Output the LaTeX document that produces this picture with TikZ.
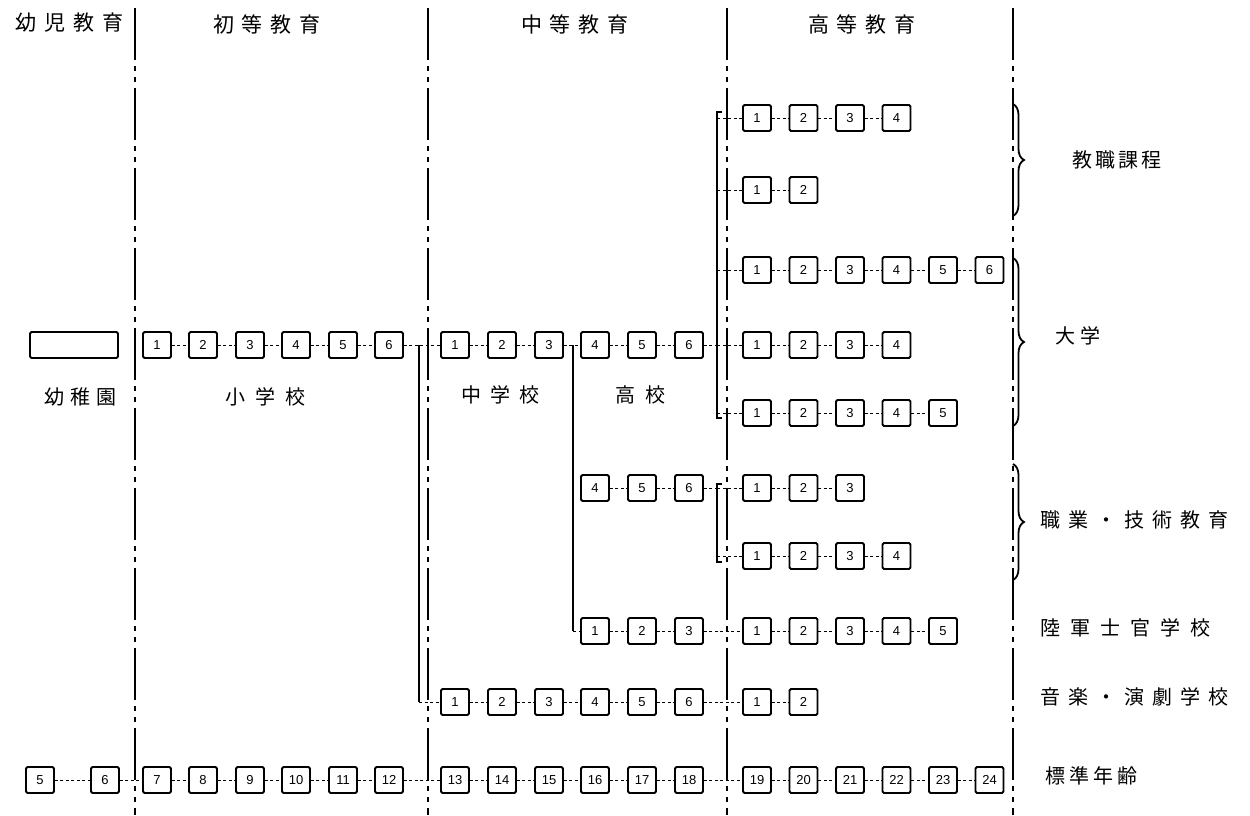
\documentclass[tikz,border=0pt]{standalone}
\usepackage{fontspec}
\setmainfont{Liberation Sans}
\newfontfamily\jp{Noto Sans CJK JP}
\usetikzlibrary{decorations.pathreplacing}
\begin{document}
\begin{tikzpicture}[x=1pt,y=-1pt,
 bx/.style={draw,line width=1.9pt,minimum width=28pt,minimum height=26pt,inner sep=0pt,rounded corners=1.5pt,font=\fontsize{13}{13}\selectfont},
 lnk/.style={line width=0.9pt,dash pattern=on 3pt off 2.5pt},
 solidl/.style={line width=2.4pt},
 sep/.style={line width=2.6pt,dash pattern=on 52pt off 6pt on 5pt off 6pt on 5pt off 6pt},
 hdr/.style={font=\jp\fontsize{21}{21}\selectfont,inner sep=0pt},
 lbl/.style={font=\jp\fontsize{20}{20}\selectfont,inner sep=0pt},
 rlbl/.style={font=\jp\fontsize{20}{20}\selectfont,inner sep=0pt,anchor=west},
 brc/.style={line width=1.8pt,decorate,decoration={brace,amplitude=11pt,aspect=0.5}},
]
\useasboundingbox[fill=white] (0,0) rectangle (1250,815);

% separators
\foreach \x/\n in {135/a,428/b,727/c,1013/d}{
  \coordinate (sep\n t) at (\x,8);
  \coordinate (sep\n b) at (\x,815);
  \draw[sep] (sep\n t) -- (sep\n b);
}

% headers
\node[hdr] (h0) at (70,23) {幼\kern8pt 児\kern8pt 教\kern8pt 育};
\node[hdr] (h1) at (267,24) {初\kern8pt 等\kern8pt 教\kern8pt 育};
\node[hdr] (h2) at (575,24) {中\kern8pt 等\kern8pt 教\kern8pt 育};
\node[hdr] (h3) at (862,24) {高\kern8pt 等\kern8pt 教\kern8pt 育};

% kindergarten
\node[bx,minimum width=88pt] (kg) at (74,345) {};
\node[lbl] (l0) at (80,397) {幼\kern6pt 稚\kern6pt 園};
\node[lbl] (l1) at (265,397) {小\kern10pt 学\kern10pt 校};
\node[lbl] (l2) at (500,395) {中\kern9pt 学\kern9pt 校};
\node[lbl] (l3) at (640,395) {高\kern10pt 校};

% primary
\foreach \i/\x in {1/157,2/203,3/250,4/296,5/343,6/389}
  \node[bx] (p\i) at (\x,345) {\i};
% secondary main row
\foreach \i/\x in {1/455,2/502,3/549,4/595,5/642,6/689}
  \node[bx] (ma\i) at (\x,345) {\i};
% high school lower row
\foreach \i/\x in {4/595,5/642,6/689}
  \node[bx] (mb\i) at (\x,488) {\i};
% military secondary
\foreach \i/\x in {1/595,2/642,3/689}
  \node[bx] (mc\i) at (\x,631) {\i};
% music secondary
\foreach \i/\x in {1/455,2/502,3/549,4/595,5/642,6/689}
  \node[bx] (md\i) at (\x,702) {\i};

% higher education rows
\foreach \r/\y/\n in {a/118/4,b/190/2,c/270/6,d/345/4,e/413/5,f/488/3,g/556/4,h/631/5,i/702/2}{
  \foreach \i in {1,...,\n}{
    \pgfmathsetmacro\xx{757+46.5*(\i-1)}
    \node[bx] (h\r\i) at (\xx,\y) {\i};
  }
}

% standard ages
\node[bx] (s5) at (40,780) {5};
\node[bx] (s6) at (105,780) {6};
\foreach \i/\x in {7/157,8/203,9/250,10/296,11/343,12/389,13/455,14/502,15/549,16/595,17/642,18/689,19/757,20/803.5,21/850,22/896.5,23/943,24/989.5}
  \node[bx] (s\i) at (\x,780) {\i};

% in-row links
\foreach \i in {1,...,5}{\pgfmathtruncatemacro\j{\i+1}
  \draw[lnk] (p\i) -- (p\j);
  \draw[lnk] (ma\i) -- (ma\j);
  \draw[lnk] (md\i) -- (md\j);}
\draw[lnk] (mb4) -- (mb5); \draw[lnk] (mb5) -- (mb6);
\draw[lnk] (mc1) -- (mc2); \draw[lnk] (mc2) -- (mc3);
\foreach \r/\n in {a/4,b/2,c/6,d/4,e/5,f/3,g/4,h/5,i/2}{
  \foreach \i in {2,...,\n}{\pgfmathtruncatemacro\k{\i-1}
    \draw[lnk] (h\r\k) -- (h\r\i);}}
\foreach \i in {5,...,23}{\pgfmathtruncatemacro\j{\i+1}
  \draw[lnk] (s\i) -- (s\j);}

% primary -> secondary trunk
\coordinate (jt) at (419,345);
\coordinate (jb) at (419,702);
\draw[solidl] (jt) -- (jb);
\draw[lnk] (p6) -- (ma1);
\draw[lnk] (jb) -- (md1.west);

% middle school -> high school trunk
\coordinate (kt) at (573,345);
\coordinate (kb) at (573,631);
\draw[solidl] (kt) -- (kb);
\draw[lnk] (kb) -- (mc1.west);

% brackets to higher education
\coordinate (b1t) at (717,112);
\coordinate (b1b) at (717,418);
\draw[solidl] ([xshift=5pt]b1t) -- (b1t) -- (b1b) -- ([xshift=5pt]b1b);
\coordinate (b2t) at (717,484);
\coordinate (b2b) at (717,562);
\draw[solidl] ([xshift=5pt]b2t) -- (b2t) -- (b2b) -- ([xshift=5pt]b2b);
\draw[lnk] (ma6.east) -- (ma6.east -| b1t);
\draw[lnk] (mb6.east) -- (mb6.east -| b2t);
\foreach \r in {a,b,c,d,e,f,g}
  \draw[lnk] (h\r1.west) -- (h\r1.west -| b1t);
\draw[lnk] (mc3) -- (hh1);
\draw[lnk] (md6) -- (hi1);

% braces
\coordinate (br1t) at (1013,104);
\coordinate (br1b) at (1013,216);
\coordinate (br2t) at (1013,258);
\coordinate (br3b) at (1013,426);
\coordinate (br3t) at (1013,464);
\coordinate (br4b) at (1013,580);
\draw[brc] (br1t) -- (br1b);
\draw[brc] (br2t) -- (br3b);
\draw[brc] (br3t) -- (br4b);

% right labels
\node[rlbl] (r1) at (1072,160) {教\kern3pt 職\kern3pt 課\kern3pt 程};
\node[rlbl] (r2) at (1055,336) {大\kern5pt 学};
\node[rlbl] (r3) at (1040,520) {職\kern8pt 業\kern8pt ・\kern8pt 技\kern8pt 術\kern8pt 教\kern8pt 育};
\node[rlbl] (r4) at (1040,628) {陸\kern10pt 軍\kern10pt 士\kern10pt 官\kern10pt 学\kern10pt 校};
\node[rlbl] (r5) at (1040,697) {音\kern8pt 楽\kern8pt ・\kern8pt 演\kern8pt 劇\kern8pt 学\kern8pt 校};
\node[rlbl] (r6) at (1045,776) {標\kern4pt 準\kern4pt 年\kern4pt 齢};
\end{tikzpicture}
\end{document}
